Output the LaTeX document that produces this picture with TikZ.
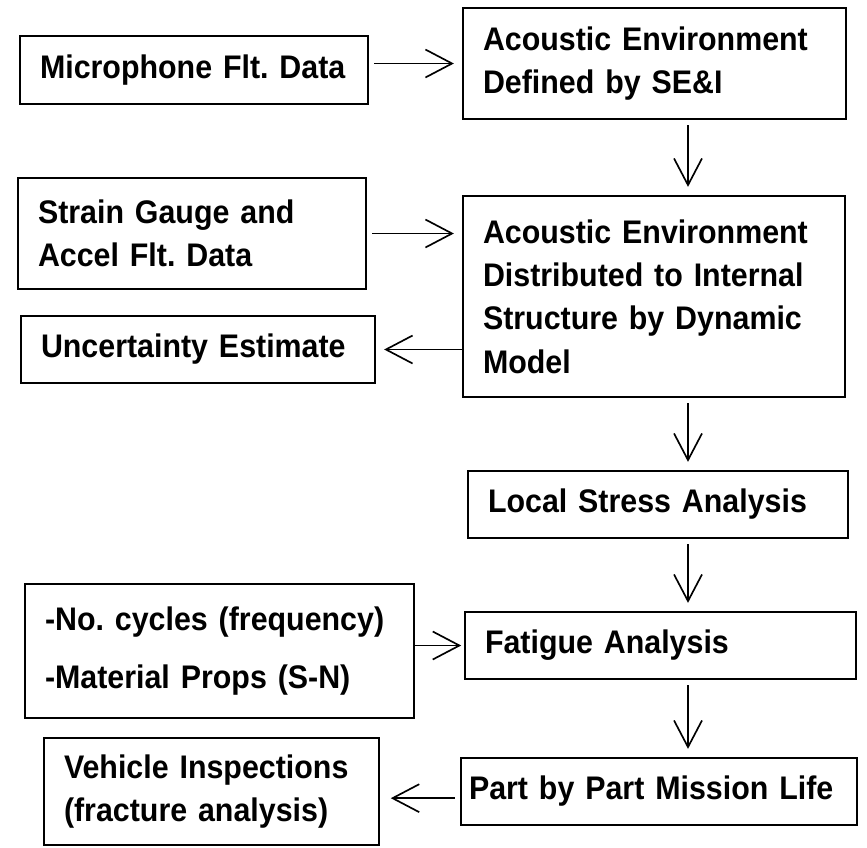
\documentclass[tikz,border=0pt]{standalone}
\usepackage{fontspec}
\setmainfont{Liberation Sans}[FakeStretch=0.93]
\usepackage{tikz}
\usetikzlibrary{arrows.meta,positioning,calc}
\frenchspacing

\begin{document}
\begin{tikzpicture}[
    x=0.75pt, y=0.75pt,
    box/.style={draw, line width=1.7pt, inner xsep=15pt, inner ysep=0pt, align=left,
      font=\fontsize{24.5pt}{32.5pt}\selectfont\bfseries},
    arr/.style={-{Straight Barb[length=20pt, width=21pt]}, line width=1.25pt,
      shorten <=4pt, shorten >=6pt}
  ]
    \useasboundingbox (0,0) rectangle (867,-847);
    \coordinate (spine) at (688,0);
    % left column
    \node[box, text width=231pt, minimum height=51pt] (mic) at (194,-70) {Microphone Flt. Data};
    \node[box, text width=231pt, minimum height=83.25pt] (strain) at (192,-233.5) {Strain Gauge and\\Accel Flt. Data};
    \node[box, text width=235.5pt, minimum height=50.25pt] (uncert) at (198,-349.5) {Uncertainty Estimate};
    \node[box, text width=261.75pt, minimum height=100.5pt] (cycles) at (219.5,-651) {-No. cycles (frequency)\\[10.5pt]-Material Props (S-N)};
    \node[box, text width=221.25pt, minimum height=80.25pt] (vehicle) at (211.5,-791.5) {Vehicle Inspections\\(fracture analysis)};
    % main column
    \node[box, text width=257.25pt, minimum height=83.25pt] (acdef) at (654.5,-63.5) {Acoustic Environment\\Defined by SE\&I};
    \node[box, text width=256.5pt, minimum height=150.75pt] (acdist) at (654,-296.5) {Acoustic Environment\\Distributed to Internal\\Structure by Dynamic\\Model};
    \node[box, text width=255pt, minimum height=50.25pt] (local) at (658,-504.5) {Local Stress Analysis};
    \node[box, text width=263.25pt, minimum height=50.25pt] (fatigue) at (660.5,-645.5) {Fatigue Analysis};
    \node[box, inner xsep=6pt, text width=285pt, minimum height=50.25pt] (part) at (659,-791.5) {Part by Part Mission Life};
    % connectors
    \draw[arr] (mic.east |- acdef.west) -- (acdef.west);
    \draw[arr] (acdef.south -| spine) -- (acdist.north -| spine);
    \draw[arr] (strain.east) -- (strain.east -| acdist.west);
    \draw[arr, shorten <=0pt] (acdist.west |- uncert.east) -- (uncert.east);
    \draw[arr] (acdist.south -| spine) -- (local.north -| spine);
    \draw[arr] (local.south -| spine) -- (fatigue.north -| spine);
    \draw[arr, shorten <=0pt, shorten >=2pt] (cycles.east |- fatigue.west) -- (fatigue.west);
    \draw[arr] (fatigue.south -| spine) -- (part.north -| spine);
    \draw[arr, shorten >=8pt] ([yshift=-5pt]part.west) -- ([yshift=-5pt]vehicle.east);
  \end{tikzpicture}
\end{document}
